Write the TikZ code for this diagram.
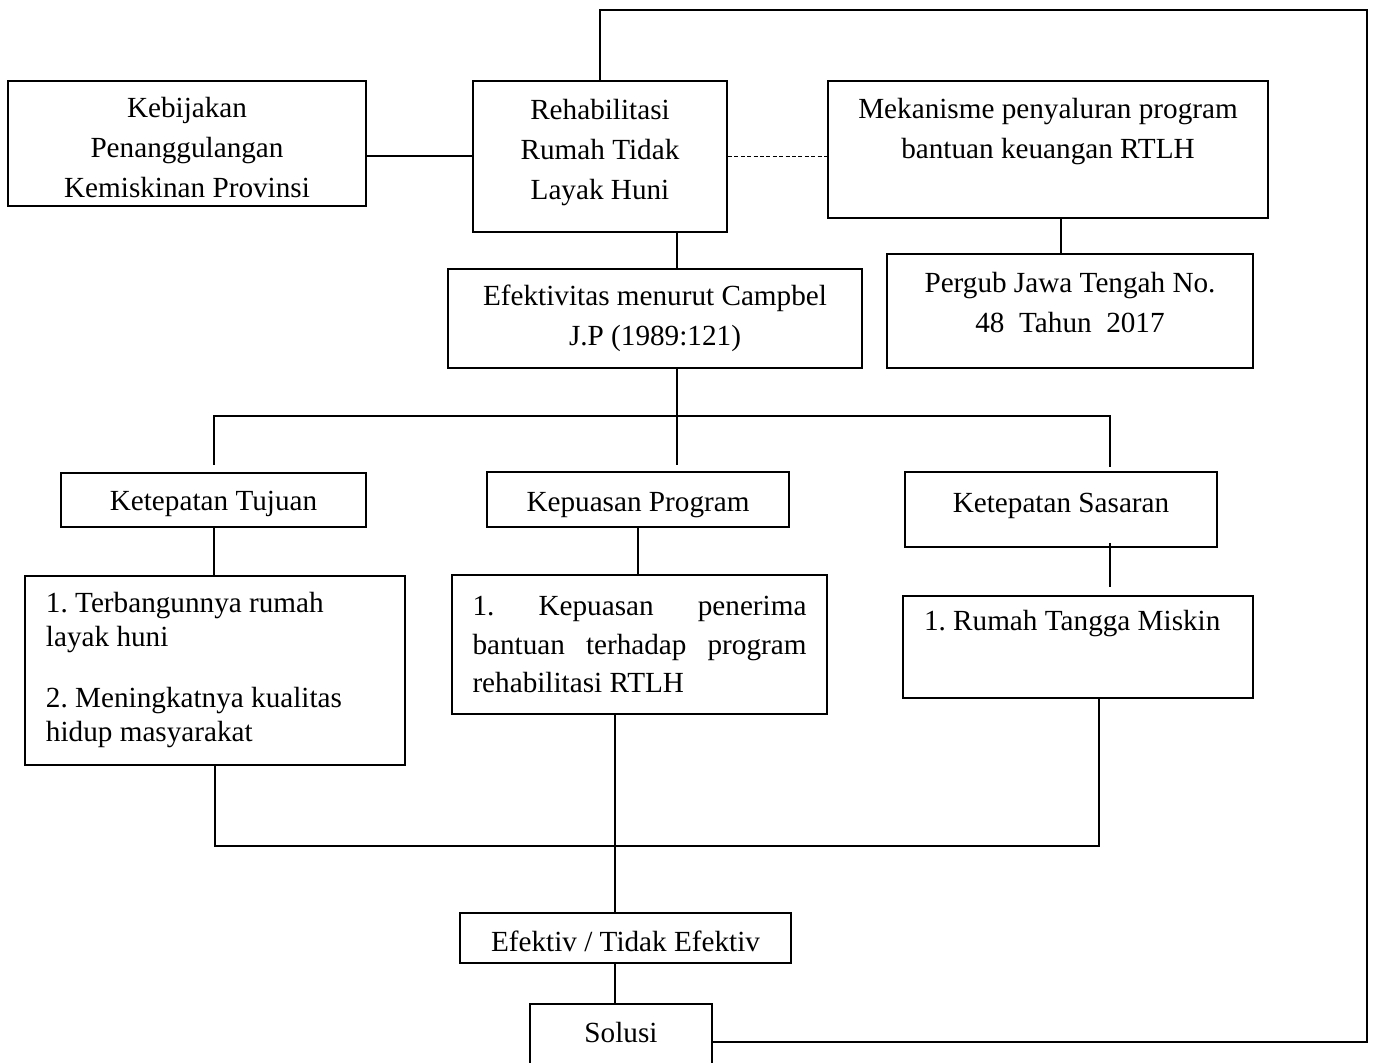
\documentclass[tikz,border=0pt]{standalone}
\usepackage{fontspec}
\setmainfont{Liberation Serif}
\frenchspacing
\newcommand{\padbelow}[1]{\rule[-#1]{0pt}{#1}}
\newcommand{\padabove}[1]{\rule{0pt}{#1}}

\begin{document}
\begin{tikzpicture}[x=0.5pt,y=-0.5pt,
  font=\fontsize{14.6}{20}\selectfont,
  box/.style={draw,line width=1pt,align=center},
  listbox/.style={draw,line width=1pt,align=flush left},
  link/.style={line width=1pt}]
  \useasboundingbox (0,0) rectangle (1373,1063);

  % top row
  \node[box,minimum width=179pt,minimum height=62.5pt] (keb) at (187,143.5)
    {\padabove{14pt}Kebijakan\\Penanggulangan\\Kemiskinan Provinsi};
  \node[box,minimum width=127pt,minimum height=75.5pt] (rehab) at (600,156.5)
    {Rehabilitasi\\Rumah Tidak\\Layak Huni\padbelow{6.7pt}};
  \node[box,minimum width=220pt,minimum height=68.5pt] (mek) at (1048,149.5)
    {Mekanisme penyaluran program\\bantuan keuangan RTLH\padbelow{21pt}};
  \node[box,minimum width=183pt,minimum height=57pt] (pergub) at (1070,311)
    {Pergub Jawa Tengah No.\\48\ \ Tahun\ \ 2017\padbelow{8.5pt}};
  \node[box,minimum width=207pt,minimum height=49.5pt] (efek) at (655,318.5)
    {Efektivitas menurut Campbel\\J.P (1989:121)};

  % indicators
  \node[box,minimum width=152.5pt,minimum height=27pt] (tujuan) at (213.5,500)
    {\padabove{14pt}Ketepatan Tujuan};
  \node[box,minimum width=151pt,minimum height=27.5pt] (kepuasan) at (638,499.5)
    {\padabove{15pt}Kepuasan Program};
  \node[box,minimum width=156pt,minimum height=37.5pt] (sasaran) at (1061,509.5)
    {Ketepatan Sasaran\padbelow{6.7pt}};

  \node[listbox,text width=169pt,minimum width=190pt,minimum height=94.5pt,
    font=\fontsize{14.6}{17}\selectfont] (tujuanlist) at (215,670.5)
    {1. Terbangunnya rumah\\layak huni\\[13.5pt]2. Meningkatnya kualitas\\hidup masyarakat};
  \node[listbox,text width=167pt,minimum width=187.5pt,minimum height=69.5pt,
    font=\fontsize{14.6}{19.3}\selectfont] (kepuasanlist) at (639.5,644.5)
    {1.\hfill Kepuasan\hfill penerima\\bantuan\hfill terhadap\hfill program\\rehabilitasi RTLH};
  \node[listbox,text width=154pt,minimum width=175pt,minimum height=51pt]
    (sasaranlist) at (1078,647) {1. Rumah Tangga Miskin\padbelow{27pt}};

  % result
  \node[box,minimum width=165.5pt,minimum height=25pt] (hasil) at (625.5,938)
    {\padabove{14pt}Efektiv / Tidak Efektiv};
  \node[box,minimum width=91pt,minimum height=38pt] (solusi) at (621,1042)
    {Solusi\padbelow{10pt}};

  \coordinate (trunk) at (677,416);
  \coordinate (rbranch) at (1110,416);
  \coordinate (join) at (1099,846);
  \coordinate (stem) at (615,846);
  \coordinate (loop) at (1367,10);

  \draw[link] (keb.east |- rehab.west) -- (rehab.west);
  \draw[line width=0.6pt,dash pattern=on 2pt off 1.2pt]
    (rehab.east) -- (rehab.east -| mek.west);
  \draw[link] (mek.south -| 1061,0) -- (pergub.north -| 1061,0);
  \draw[link] (rehab.south -| trunk) -- (efek.north -| trunk);
  \draw[link,shorten >=3pt] (efek.south -| trunk) -- (kepuasan.north -| trunk);
  \draw[link,shorten <=3.5pt,shorten >=2pt]
    (tujuan.north) |- (rbranch) -- (sasaran.north -| rbranch);
  \draw[link] (tujuan.south) -- (tujuan.south |- tujuanlist.north);
  \draw[link] (kepuasan.south) -- (kepuasan.south |- kepuasanlist.north);
  \draw[link,shorten <=-2.5pt,shorten >=4pt]
    (sasaran.south -| rbranch) -- (sasaranlist.north -| rbranch);
  \draw[link] (tujuanlist.south) |- (join) -- (join |- sasaranlist.south);
  \draw[link] (kepuasanlist.south -| stem) -- (hasil.north -| stem);
  \draw[link] (hasil.south -| stem) -- (solusi.north -| stem);
  \draw[link] (solusi.east) -| (loop) -| (rehab.north);
\end{tikzpicture}
\end{document}
